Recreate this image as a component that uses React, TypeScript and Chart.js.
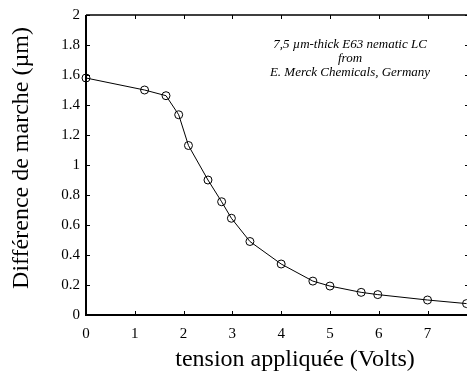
import React, { useEffect, useRef } from "react";
import { Chart, registerables } from "chart.js";

Chart.register(...registerables);

// Data
const voltage = [0, 1.2, 1.64, 1.9, 2.1, 2.5, 2.78, 2.98, 3.36, 4.0, 4.65, 5.0, 5.64, 5.98, 7.0, 7.8];
const retardation = [1.58, 1.5, 1.462, 1.335, 1.13, 0.9, 0.755, 0.645, 0.49, 0.34, 0.226, 0.193, 0.151, 0.136, 0.1, 0.076];

const xMin = 0;
const xMax = 7.85;
const xStep = 1;
const yMin = 0;
const yMax = 2;
const yStep = 0.2;

const xTitle = "tension appliquée (Volts)";
const yTitle = "Différence de marche (µm)";
const noteLines = ["7,5 µm-thick E63 nematic LC", "from", "E. Merck Chemicals, Germany"];

const FONT = "'Liberation Serif', 'Times New Roman', serif";

const framePlugin = {
  id: "framePlugin",
  afterDraw(chart: any) {
    const { ctx, chartArea, scales } = chart;
    const { left, right, top, bottom } = chartArea;
    const xs = scales.x;
    const ys = scales.y;
    ctx.save();
    ctx.strokeStyle = "#000";
    // frame
    ctx.lineWidth = 2;
    ctx.beginPath();
    ctx.moveTo(left, top);
    ctx.lineTo(left, bottom);
    ctx.lineTo(right, bottom);
    ctx.stroke();
    ctx.lineWidth = 1.5;
    ctx.beginPath();
    ctx.moveTo(left, top);
    ctx.lineTo(right, top);
    ctx.lineTo(right, bottom);
    ctx.stroke();
    // inner ticks
    ctx.lineWidth = 1;
    const tl = 4;
    ctx.beginPath();
    xs.ticks.forEach((t: any) => {
      const px = Math.round(xs.getPixelForValue(t.value)) + 0.5;
      ctx.moveTo(px, bottom);
      ctx.lineTo(px, bottom - tl);
      ctx.moveTo(px, top);
      ctx.lineTo(px, top + tl);
    });
    ys.ticks.forEach((t: any) => {
      const py = Math.round(ys.getPixelForValue(t.value)) + 0.5;
      ctx.moveTo(left, py);
      ctx.lineTo(left + tl, py);
      ctx.moveTo(right, py);
      ctx.lineTo(right - tl, py);
    });
    ctx.stroke();

    // axis titles
    ctx.fillStyle = "#000";
    ctx.font = `24px ${FONT}`;
    ctx.textAlign = "center";
    ctx.textBaseline = "middle";
    ctx.fillText(xTitle, 295, 360);
    ctx.save();
    ctx.translate(22, 158);
    ctx.rotate(-Math.PI / 2);
    ctx.fillText(yTitle, 0, 0);
    ctx.restore();

    // annotation
    ctx.font = `italic 13px ${FONT}`;
    const cx = 350;
    noteLines.forEach((line, i) => {
      ctx.fillText(line, cx, 45 + i * 14);
    });
    ctx.restore();
  },
};

export default function App() {
  const canvasRef = useRef<HTMLCanvasElement | null>(null);

  useEffect(() => {
    if (!canvasRef.current) return;
    const chart = new Chart(canvasRef.current, {
      type: "line",
      data: {
        datasets: [
          {
            data: voltage.map((v, i) => ({ x: v, y: retardation[i] })),
            borderColor: "#000",
            borderWidth: 1,
            backgroundColor: "rgba(0,0,0,0)",
            pointRadius: 4,
            pointBorderWidth: 1,
            pointBorderColor: "#000",
            pointBackgroundColor: "rgba(0,0,0,0)",
            tension: 0,
            fill: false,
          },
        ],
      },
      options: {
        animation: false,
        responsive: false,
        devicePixelRatio: 1,
        clip: false,
        layout: { padding: { left: 0, top: 14, right: 11, bottom: 0 } },
        plugins: {
          legend: { display: false },
          tooltip: { enabled: false },
          title: { display: false },
        },
        scales: {
          x: {
            type: "linear",
            min: xMin,
            max: xMax,
            offset: false,
            grid: { display: false, drawTicks: false },
            border: { display: false },
            ticks: {
              stepSize: xStep,
              includeBounds: false,
              padding: 10,
              color: "#000",
              font: { family: FONT, size: 15 },
              maxRotation: 0,
              autoSkip: false,
              callback: (v: any) => String(v),
            },
            afterFit: (s: any) => {
              s.height = 64;
            },
          },
          y: {
            type: "linear",
            min: yMin,
            max: yMax,
            grid: { display: false, drawTicks: false },
            border: { display: false },
            ticks: {
              stepSize: yStep,
              padding: 6,
              color: "#000",
              font: { family: FONT, size: 15 },
              autoSkip: false,
              callback: (v: any) => String(Math.round(Number(v) * 10) / 10),
            },
            afterFit: (s: any) => {
              s.width = 86;
            },
          },
        },
      },
      plugins: [framePlugin],
    });
    return () => chart.destroy();
  }, []);

  return (
    <div
      style={{
        position: "absolute",
        left: 0,
        top: 0,
        width: 467,
        height: 379,
        overflow: "hidden",
        background: "#fff",
      }}
    >
      <canvas ref={canvasRef} width={480} height={379} style={{ width: 480, height: 379, display: "block" }} />
    </div>
  );
}
